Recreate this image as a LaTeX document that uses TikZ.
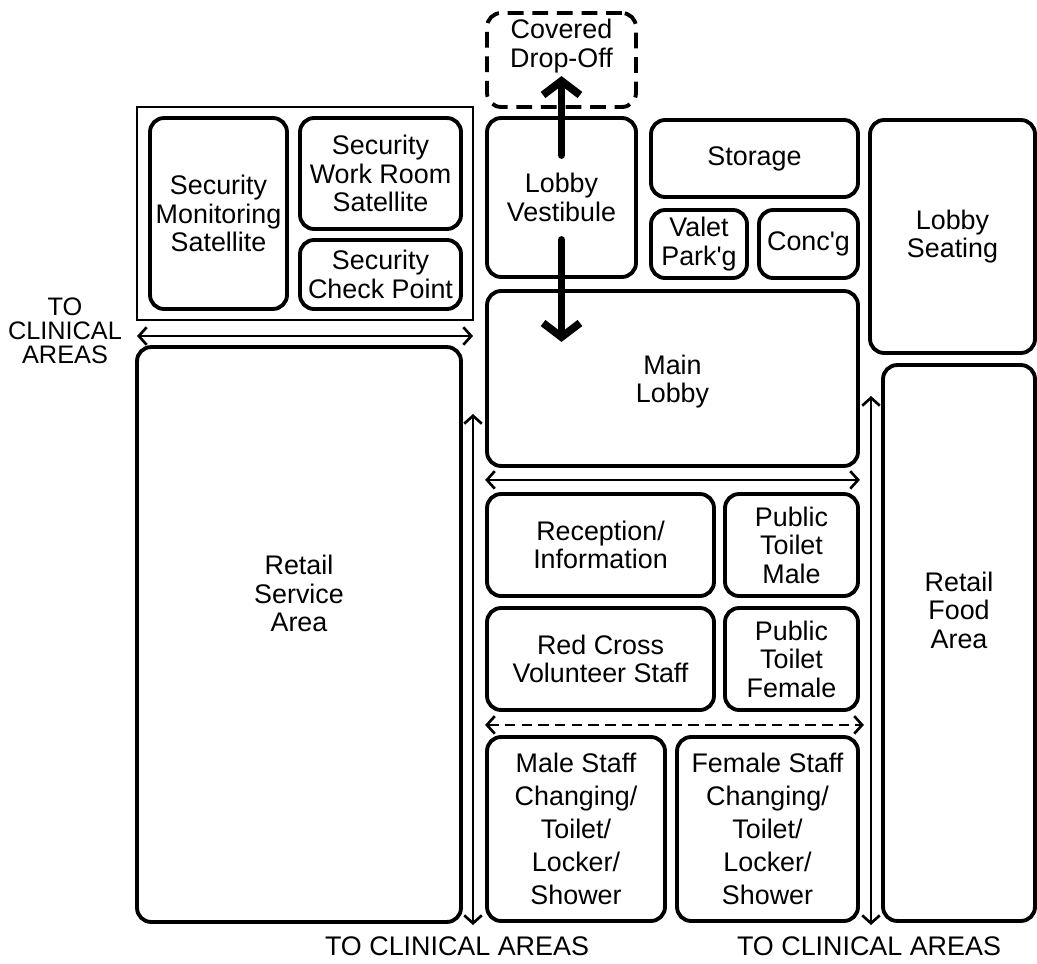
\documentclass[tikz,border=0pt]{standalone}
\usepackage{fontspec}
\setmainfont{Liberation Sans}
\usepackage{tikz}
\usetikzlibrary{arrows.meta,positioning}
\newcommand{\roomfont}{\fontsize{15.3pt}{16.2pt}\selectfont}
\newcommand{\stafffont}{\fontsize{15.3pt}{18.7pt}\selectfont}
\newcommand{\exitfont}{\fontsize{14.4pt}{13.6pt}\selectfont}
\tikzstyle{room} = [rectangle, draw, line width=2.2pt, rounded corners=8pt, align=center, inner sep=0pt, font=\roomfont]
\tikzstyle{suite} = [rectangle, draw, line width=1.3pt, inner sep=0pt]
\tikzstyle{roomtext} = [align=center, font=\roomfont]
\tikzstyle{exitlabel} = [align=center, inner sep=0pt, font=\exitfont]
\tikzstyle{walkway} = [line width=1.5pt, {Straight Barb[length=4.5pt,width=10pt,line width=1.5pt]}-{Straight Barb[length=4.5pt,width=10pt,line width=1.5pt]}]
\tikzstyle{entry} = [line width=4.4pt, line cap=round, -{Straight Barb[length=8pt,width=21pt,line width=4.4pt]}]

\begin{document}
\begin{tikzpicture}[x=0.02cm, y=-0.02cm]
\useasboundingbox (0,0) rectangle (1037,963);

% security suite
\node[suite, minimum width=6.72cm, minimum height=4.26cm] (secsuite) at (305,213.5) {};
\node[room, minimum width=2.74cm, minimum height=3.82cm] (secmon) at (218.5,213.5) {Security\\Monitoring\\Satellite};
\node[room, minimum width=3.22cm, minimum height=2.22cm] (secwork) at (380.5,173.5) {Security\\Work Room\\Satellite};
\node[room, minimum width=3.22cm, minimum height=1.38cm] (seccheck) at (380.5,274.5) {Security\\Check Point};

% entrance
\node[room, dashed, dash pattern=on 9pt off 5pt, minimum width=2.98cm, minimum height=1.88cm] (drop) at (561.5,60) {};
\node[roomtext] (droptext) at ([yshift=0.28cm]drop.center) {Covered\\Drop-Off};
\node[room, minimum width=2.98cm, minimum height=3.18cm] (vest) at (561.5,197.5) {Lobby\\Vestibule};
\node[room, minimum width=4.14cm, minimum height=1.54cm] (storage) at (754.5,158.5) {Storage};
\node[room, minimum width=1.92cm, minimum height=1.36cm] (valet) at (699,244) {Valet\\Park\textquotesingle g};
\node[room, minimum width=1.98cm, minimum height=1.36cm] (concg) at (808.5,244) {Conc\textquotesingle g};
\node[room, minimum width=3.3cm, minimum height=4.66cm] (seating) at (952.5,236.5) {Lobby\\Seating};
\node[room, minimum width=7.42cm, minimum height=3.5cm] (mainlobby) at (672.5,378.5) {};
\node[roomtext] (mainlobbytext) at ([yshift=-0.06cm]mainlobby.center) {Main\\Lobby};

% lobby core
\node[room, minimum width=4.54cm, minimum height=2.04cm] (reception) at (600.5,545) {Reception/\\Information};
\node[room, minimum width=2.66cm, minimum height=2.04cm] (ptmale) at (791.5,545) {Public\\Toilet\\Male};
\node[room, minimum width=4.54cm, minimum height=2.04cm] (redcross) at (600.5,659) {Red Cross\\Volunteer Staff};
\node[room, minimum width=2.66cm, minimum height=2.04cm] (ptfemale) at (791.5,659) {Public\\Toilet\\Female};
\node[room, font=\stafffont, minimum width=3.56cm, minimum height=3.68cm] (malestaff) at (576,829) {Male Staff\\Changing/\\Toilet/\\Locker/\\Shower};
\node[room, font=\stafffont, minimum width=3.62cm, minimum height=3.68cm] (femalestaff) at (767.5,829) {Female Staff\\Changing/\\Toilet/\\Locker/\\Shower};

% retail
\node[room, minimum width=6.48cm, minimum height=11.5cm] (rservice) at (299,634.5) {};
\node[roomtext] (rservicetext) at ([yshift=0.82cm]rservice.center) {Retail\\Service\\Area};
\node[room, minimum width=3.04cm, minimum height=11.12cm] (rfood) at (959,643) {};
\node[roomtext] (rfoodtext) at ([yshift=0.66cm]rfood.center) {Retail\\Food\\Area};

% to clinical areas
\node[exitlabel] (clinwest) at (65,331) {TO\\CLINICAL\\AREAS};
\node[exitlabel, font=\roomfont] (clinsouth) at (457,946) {TO CLINICAL AREAS};
\node[exitlabel, font=\roomfont] (clineast) at (869,946) {TO CLINICAL AREAS};

\coordinate (wwest) at (137,336);
\coordinate (weast) at (473,336);
\coordinate (wtop) at (473,414);
\coordinate (wbot) at (473,925);
\coordinate (etop) at (871,396);
\coordinate (ebot) at (871,925);

\draw[walkway] (wwest) -- (weast);
\draw[walkway] (wtop) -- (wbot);
\draw[walkway] (etop) -- (ebot);
\draw[walkway] ([yshift=-0.24cm]mainlobby.south west) -- ([yshift=-0.24cm]mainlobby.south east);
\draw[walkway, dashed, dash pattern=on 6pt off 3.5pt] ([yshift=-0.26cm]redcross.south west) -- ([yshift=-0.26cm,xshift=0.08cm]ptfemale.south east);

\draw[entry] ([yshift=-0.78cm]vest.north) -- ++(0,-79);
\draw[entry] ([yshift=0.78cm]vest.south) -- ++(0,102);
\end{tikzpicture}
\end{document}
